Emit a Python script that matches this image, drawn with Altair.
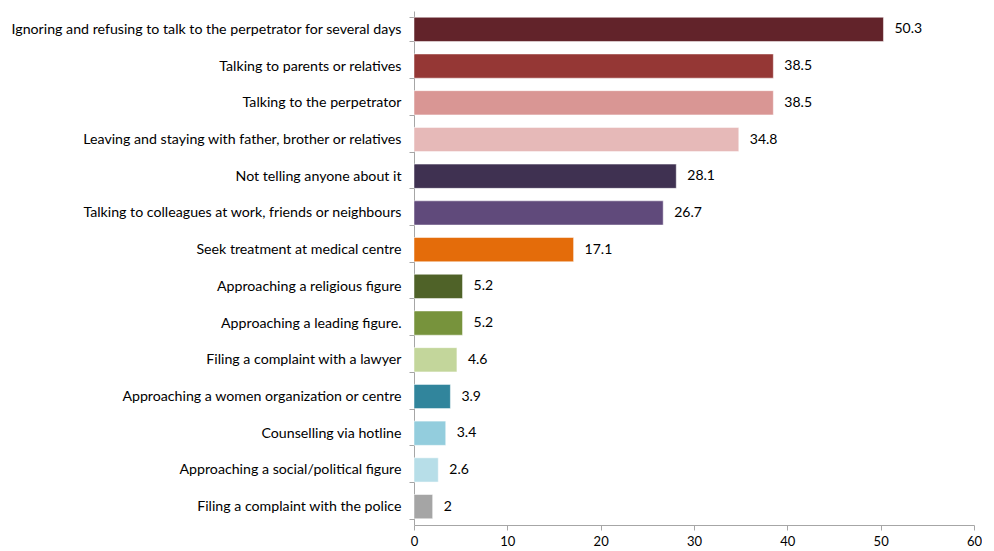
import altair as alt
import pandas as pd

categories = [
    "Ignoring and refusing to talk to the perpetrator for several days",
    "Talking to parents or relatives",
    "Talking to the perpetrator",
    "Leaving and staying with father, brother or relatives",
    "Not telling anyone about it",
    "Talking to colleagues at work, friends or neighbours",
    "Seek treatment at medical centre",
    "Approaching a religious figure",
    "Approaching a leading figure.",
    "Filing a complaint with a lawyer",
    "Approaching a women organization or centre",
    "Counselling via hotline",
    "Approaching a social/political figure",
    "Filing a complaint with the police",
]
values = [50.3, 38.5, 38.5, 34.8, 28.1, 26.7, 17.1, 5.2, 5.2, 4.6, 3.9, 3.4, 2.6, 2]
colors = ["#62232A", "#953735", "#D99694", "#E6B9B8", "#3F3151", "#604A7B", "#E46C0A",
          "#4F6228", "#77933C", "#C3D69B", "#31859C", "#93CDDD", "#B7DEE8", "#A5A5A5"]
labels = ["50.3", "38.5", "38.5", "34.8", "28.1", "26.7", "17.1", "5.2", "5.2", "4.6", "3.9", "3.4", "2.6", "2"]

df = pd.DataFrame({"cat": categories, "val": values, "color": colors, "label": labels})

FONT = "Lato"

y = alt.Y("cat:N", sort=categories, title=None,
          scale=alt.Scale(paddingInner=0.34, paddingOuter=0.17),
          axis=alt.Axis(tickBand="extent", domainColor="#a6a6a6", tickColor="#a6a6a6",
                        tickSize=5, labelFontSize=14.2, labelColor="#000000", labelFont=FONT,
                        labelPadding=8, labelLimit=500))
x = alt.X("val:Q", title=None,
          scale=alt.Scale(domain=[0, 60], nice=False),
          axis=alt.Axis(values=[0, 10, 20, 30, 40, 50, 60], grid=False, domainColor="#a6a6a6",
                        tickColor="#a6a6a6", tickSize=5, labelFontSize=13, labelColor="#000000",
                        labelFont=FONT, labelPadding=5, labelFlush=False))

bars = alt.Chart(df).mark_bar(stroke="#ffffff", strokeWidth=0.5).encode(
    y=y, x=x, color=alt.Color("color:N", scale=None))

text = alt.Chart(df).mark_text(align="left", dx=11, fontSize=14, font=FONT, color="#000000").encode(
    y=alt.Y("cat:N", sort=categories), x="val:Q", text="label:N")

chart = (bars + text).properties(width=560, height=514, padding={"left": 2, "top": -4, "right": 0, "bottom": 0}).configure_view(stroke=None)

chart.save("out.html", embed_options={"renderer": "svg", "actions": False})
